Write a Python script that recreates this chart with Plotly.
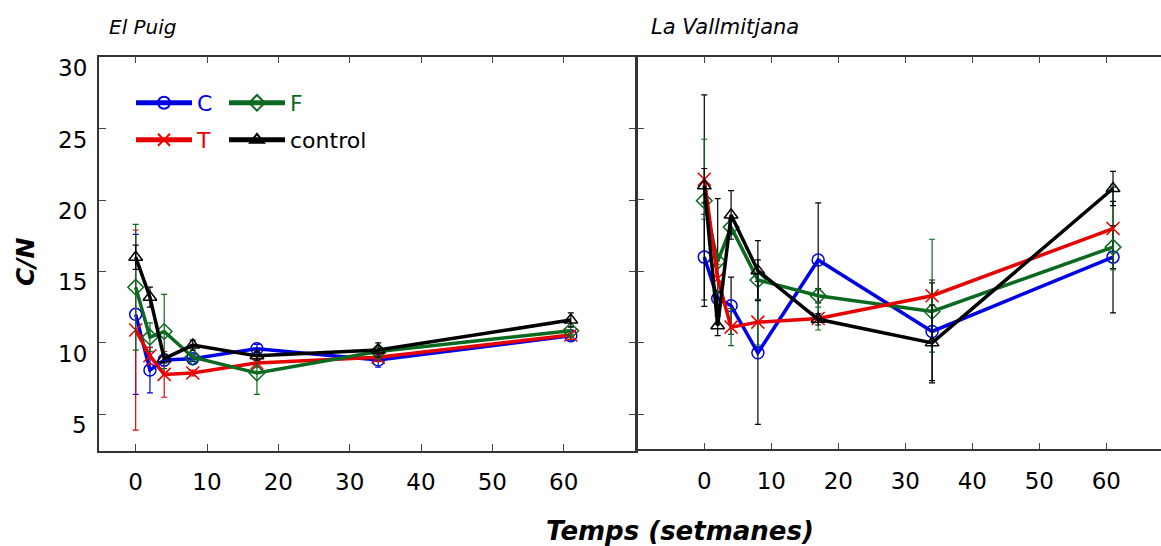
import plotly.graph_objects as go

W, H = 1161, 546

weeks = [0, 2, 4, 8, 17, 34, 61]
x_ticks = [0, 10, 20, 30, 40, 50, 60]
y_ticks = [5, 10, 15, 20, 25, 30]

# El Puig
puig_C = [12.0, 8.1, 8.8, 8.9, 9.6, 8.8, 10.5]
puig_C_err = [5.6, 1.6, 0.4, 0.2, 0.3, 0.5, 0.3]
puig_T = [10.9, 9.1, 7.8, 7.9, 8.6, 9.0, 10.55]
puig_T_err = [7.0, 0.6, 1.6, 0.2, 0.3, 0.3, 0.3]
puig_F = [13.9, 10.4, 10.8, 9.0, 7.9, 9.4, 10.85]
puig_F_err = [4.4, 1.0, 2.6, 0.2, 1.5, 0.3, 0.3]
puig_ctrl = [16.0, 13.2, 8.9, 9.85, 9.1, 9.5, 11.6]
puig_ctrl_err = [0.85, 0.7, 0.3, 0.35, 0.3, 0.5, 0.5]

# La Vallmitjana
vall_C = [16.0, 13.1, 12.6, 9.3, 15.8, 10.8, 16.0]
vall_C_err = [3.0, 0.5, 2.0, 5.0, 4.0, 3.6, 3.9]
vall_T = [21.45, 14.5, 11.1, 11.45, 11.7, 13.3, 18.0]
vall_T_err = [2.8, 1.0, 1.3, 1.6, 0.8, 3.95, 2.9]
vall_F = [19.95, 15.7, 18.1, 14.4, 13.3, 12.2, 16.7]
vall_F_err = [7.4, 4.4, 0.5, 1.4, 0.5, 2.0, 1.5]
vall_ctrl = [21.0, 11.2, 18.95, 15.05, 11.65, 10.0, 20.8]
vall_ctrl_err = [1.2, 0.7, 1.7, 2.1, 0.4, 2.65, 1.2]

BLUE = "#0000e6"
RED = "#e60000"
GREEN = "#0b6a1f"
BLACK = "#000000"
FONT = "DejaVu Sans"

series = [
    # name, color, symbol, puig vals, puig err, vall vals, vall err, vall err color, legend, legend width
    ("C", BLUE, "circle-open", puig_C, puig_C_err, vall_C, vall_C_err, BLACK, "legend", 22),
    ("F", GREEN, "diamond-open", puig_F, puig_F_err, vall_F, vall_F_err, BLACK, "legend", 40),
    ("T", RED, "x-thin-open", puig_T, puig_T_err, vall_T, vall_T_err, GREEN, "legend2", 22),
    ("control", BLACK, "triangle-up-open", puig_ctrl, puig_ctrl_err, vall_ctrl, vall_ctrl_err, BLACK, "legend2", 100),
]

fig = go.Figure()
order = [0, 2, 1, 3]
for i in order:
    name, col, sym, pv, pe, vv, ve, vecol, leg, lw = series[i]
    label = f'<span style="color:{col}">{name}</span>'
    msize = 12 if sym != "x-thin-open" else 13
    fig.add_trace(go.Scatter(
        x=weeks, y=pv, mode="lines+markers", name=label, legend=leg, legendwidth=lw,
        line=dict(color=col, width=3.5),
        marker=dict(symbol=sym, size=msize, color=col, line=dict(color=col, width=1.5)),
        error_y=dict(type="data", array=pe, visible=True, color=col, thickness=1.2, width=3),
        xaxis="x", yaxis="y", showlegend=True,
    ))
for i in [0, 1, 2, 3]:
    name, col, sym, pv, pe, vv, ve, vecol, leg, lw = series[i]
    msize = 12 if sym != "x-thin-open" else 13
    fig.add_trace(go.Scatter(
        x=weeks, y=vv, mode="lines+markers", name=name,
        line=dict(color=col, width=3.5),
        marker=dict(symbol=sym, size=msize, color=col, line=dict(color=col, width=1.5)),
        error_y=dict(type="data", array=ve, visible=True, color=vecol, thickness=1.2, width=3),
        xaxis="x2", yaxis="y2", showlegend=False,
    ))

def px_x(p):
    return p / W

def px_y(p):
    return 1 - p / H

axis_common = dict(
    showline=True, linecolor="#333333", linewidth=1.5,
    ticks="inside", ticklen=7, tickcolor="#444444", tickwidth=1,
    showgrid=False, zeroline=False,
)

legend_common = dict(xanchor="left", yanchor="top", orientation="h",
                     bgcolor="rgba(0,0,0,0)", font=dict(size=22, family=FONT),
                     itemsizing="constant", itemwidth=56)

fig.update_layout(
    width=W, height=H,
    margin=dict(l=0, r=0, t=0, b=0),
    paper_bgcolor="white", plot_bgcolor="white",
    font=dict(family=FONT, color="black"),
    xaxis=dict(domain=[px_x(99.3), px_x(636)], range=[-5.10, 70.14], anchor="y",
               tickvals=x_ticks, mirror="ticks", ticklabelstandoff=10,
               tickfont=dict(size=23, family=FONT), **axis_common),
    yaxis=dict(domain=[px_y(451), px_y(56.5)], range=[2.44, 30.04], anchor="x",
               tickvals=y_ticks, mirror="ticks", showticklabels=False, **axis_common),
    xaxis2=dict(domain=[px_x(637), 1.0], range=[-10.04, 68.16], anchor="y2",
                tickvals=x_ticks, mirror="ticks", ticklabelstandoff=10,
                tickfont=dict(size=23, family=FONT), **axis_common),
    yaxis2=dict(domain=[px_y(449.3), px_y(56.5)], range=[2.55, 30.04], anchor="x2",
                tickvals=y_ticks, mirror=False, showticklabels=False, **axis_common),
    legend=dict(x=px_x(131), y=px_y(82), **legend_common),
    legend2=dict(x=px_x(131), y=px_y(119), **legend_common),
    showlegend=True,
)

annotations = []
for v in y_ticks:
    annotations.append(dict(x=px_x(89), y=v, xref="paper", yref="y", text=str(v),
                            showarrow=False, xanchor="right", yanchor="middle", yshift=-11,
                            font=dict(size=23, family=FONT, color="black")))
annotations += [
    dict(x=px_x(107), y=px_y(27), xref="paper", yref="paper", text="<i>El Puig</i>",
         showarrow=False, xanchor="left", yanchor="middle",
         font=dict(size=20, family=FONT, color="black")),
    dict(x=px_x(649), y=px_y(27), xref="paper", yref="paper", text="<i>La Vallmitjana</i>",
         showarrow=False, xanchor="left", yanchor="middle",
         font=dict(size=21, family=FONT, color="black")),
    dict(x=px_x(25), y=px_y(262), xref="paper", yref="paper", text="<b><i>C/N</i></b>",
         showarrow=False, xanchor="center", yanchor="middle", textangle=-90,
         font=dict(size=25, family=FONT, color="black")),
    dict(x=px_x(680), y=px_y(531), xref="paper", yref="paper", text="<b><i>Temps (setmanes)</i></b>",
         showarrow=False, xanchor="center", yanchor="middle",
         font=dict(size=26, family=FONT, color="black")),
]
fig.update_layout(annotations=annotations)

fig.write_html("out.html")
